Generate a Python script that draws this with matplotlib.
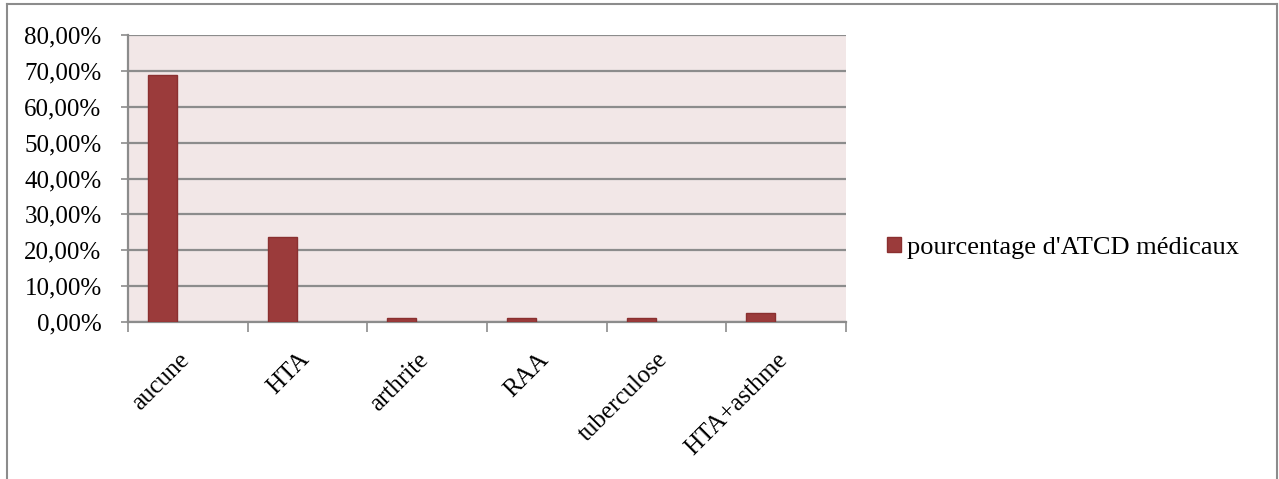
import matplotlib
matplotlib.use("Agg")
import matplotlib.pyplot as plt
from matplotlib.lines import Line2D
from matplotlib.ticker import FuncFormatter, MultipleLocator

# Medical history categories and their share of patients (%)
categories = ["aucune", "HTA", "arthrite", "RAA", "tuberculose", "HTA+asthme"]
percentages = [68.75, 23.75, 1.25, 1.25, 1.25, 2.5]
series_name = "pourcentage d'ATCD médicaux"

BAR_COLOR = "#9B3B3B"
EDGE_COLOR = "#8A3030"
PLOT_BG = "#F2E7E7"
GRID_COLOR = "#8C8C8C"
FONT_SIZE = 18

plt.rcParams["font.family"] = ["Liberation Serif", "DejaVu Serif"]

fig = plt.figure(figsize=(12.79, 4.79), dpi=100)
ax = fig.add_axes([128 / 1279, 1 - 322 / 479, (846 - 128) / 1279, (322 - 35) / 479])
ax.set_facecolor(PLOT_BG)

# bars sit in the left half of each category slot
x = list(range(len(categories)))
bar_x = [i - 0.212 for i in x]
ax.bar(bar_x, percentages, width=0.242, color=BAR_COLOR, edgecolor=EDGE_COLOR,
       linewidth=1, label=series_name, zorder=3)

ax.set_xlim(-0.5, len(categories) - 0.5)
ax.set_ylim(0, 80)
ax.yaxis.set_major_locator(MultipleLocator(10))
ax.yaxis.set_major_formatter(FuncFormatter(lambda v, p: f"{v:.2f}%".replace(".", ",")))
ax.grid(axis="y", color=GRID_COLOR, linewidth=1.6, zorder=1)

# category boundaries carry the x ticks
ax.set_xticks([i - 0.5 for i in range(len(categories) + 1)])
ax.set_xticklabels([])
ax.tick_params(axis="x", direction="out", length=7, width=1.2, color=GRID_COLOR)
ax.tick_params(axis="y", direction="out", length=5, width=1.2, color=GRID_COLOR,
               labelsize=FONT_SIZE, pad=14)

for side in ["top", "right"]:
    ax.spines[side].set_visible(False)
for side in ["left", "bottom"]:
    ax.spines[side].set_color(GRID_COLOR)
    ax.spines[side].set_linewidth(1.6)

for i, name in enumerate(categories):
    ax.annotate(name, xy=(i, 0), xycoords=("data", "axes fraction"),
                xytext=(-7, -19), textcoords="offset points",
                rotation=45, ha="right", va="top", rotation_mode="anchor",
                fontsize=FONT_SIZE)

ax.legend(loc="center left", bbox_to_anchor=(1.043, 0.258), frameon=False,
          fontsize=19, handlelength=0.5, handleheight=0.5,
          handletextpad=0.25, borderaxespad=0)

# chart frame
fig.add_artist(Line2D([7 / 1279, 7 / 1279], [0, 1 - 4 / 479], color="#8C8C8C", lw=1.5))
fig.add_artist(Line2D([7 / 1279, 1277 / 1279], [1 - 4 / 479, 1 - 4 / 479], color="#8C8C8C", lw=1.5))
fig.add_artist(Line2D([1277 / 1279, 1277 / 1279], [0, 1 - 4 / 479], color="#8C8C8C", lw=1.5))

fig.savefig("out.png", dpi=100)
